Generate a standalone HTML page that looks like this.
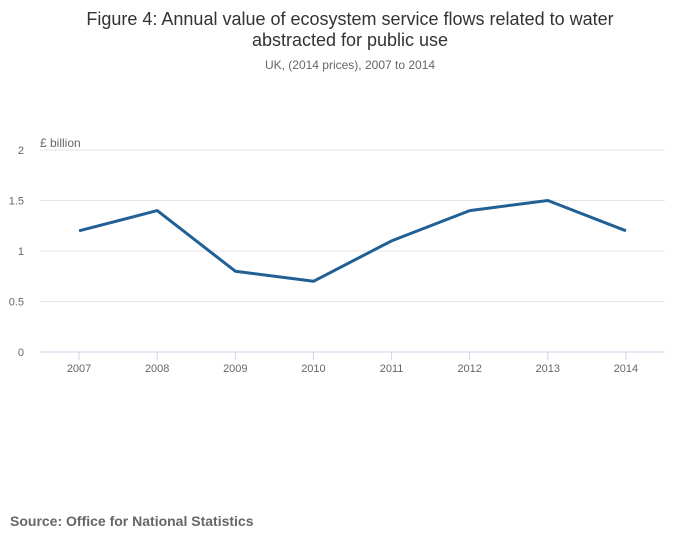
<!DOCTYPE html>
<html><head><meta charset="utf-8"><style>
body{margin:0;background:#fff;font-family:"Liberation Sans",sans-serif;}
svg text{font-family:"Liberation Sans",sans-serif;}
</style></head><body>
<svg width="700" height="549" viewBox="0 0 700 549">
<text x="350" y="25" text-anchor="middle" font-size="18" fill="#333">Figure 4: Annual value of ecosystem service flows related to water</text>
<text x="350" y="46" text-anchor="middle" font-size="18" fill="#333">abstracted for public use</text>
<text x="350" y="69" text-anchor="middle" font-size="12" fill="#666">UK, (2014 prices), 2007 to 2014</text>
<text x="40" y="147" font-size="12" fill="#666">£ billion</text>
<g id="grid"></g><g id="xt"></g>
<path id="line" fill="none" stroke="#206095" stroke-width="3" stroke-linejoin="round"/>
<text x="10" y="526" font-size="14" font-weight="bold" fill="#666">Source: Office for National Statistics</text>
</svg>
<script>
const categories=["2007","2008","2009","2010","2011","2012","2013","2014"];
const values=[1.2,1.4,0.8,0.7,1.1,1.4,1.5,1.2];
const yTicks=[0,0.5,1,1.5,2];
const yTickLabels=["0","0.5","1","1.5","2"];
const NS="http://www.w3.org/2000/svg";
const x0=40,x1=665,y0=352,y1=150;
const step=(x1-x0)/categories.length;
const xs=i=>x0+step*(i+0.5);
const ys=v=>y0-(v/2)*(y0-y1);
const g=document.getElementById('grid');
yTicks.forEach((t,i)=>{
 const l=document.createElementNS(NS,'line');
 l.setAttribute('x1',x0);l.setAttribute('x2',x1);l.setAttribute('y1',ys(t));l.setAttribute('y2',ys(t));
 l.setAttribute('stroke',t===0?'#ccd6eb':'#e6e6e6');
 
 
 g.appendChild(l);
 const tx=document.createElementNS(NS,'text');
 tx.setAttribute('x',24);tx.setAttribute('y',ys(t)+4);tx.setAttribute('text-anchor','end');
 tx.setAttribute('font-size','11');tx.setAttribute('fill','#666');tx.textContent=yTickLabels[i];
 
 
 g.appendChild(tx);
});
const xt=document.getElementById('xt');
categories.forEach((c,i)=>{
 const l=document.createElementNS(NS,'line');
 l.setAttribute('x1',xs(i));l.setAttribute('x2',xs(i));l.setAttribute('y1',y0);l.setAttribute('y2',y0+8);
 l.setAttribute('stroke','#ccd6eb');
 
 
 xt.appendChild(l);
 const tx=document.createElementNS(NS,'text');
 tx.setAttribute('x',xs(i));tx.setAttribute('y',y0+20);tx.setAttribute('text-anchor','middle');
 tx.setAttribute('font-size','11');tx.setAttribute('fill','#666');tx.textContent=c;
 
 
 xt.appendChild(tx);
});
document.getElementById('line').setAttribute('d',values.map((v,i)=>(i?'L':'M')+xs(i)+' '+ys(v)).join(' '));
</script>
</body></html>
